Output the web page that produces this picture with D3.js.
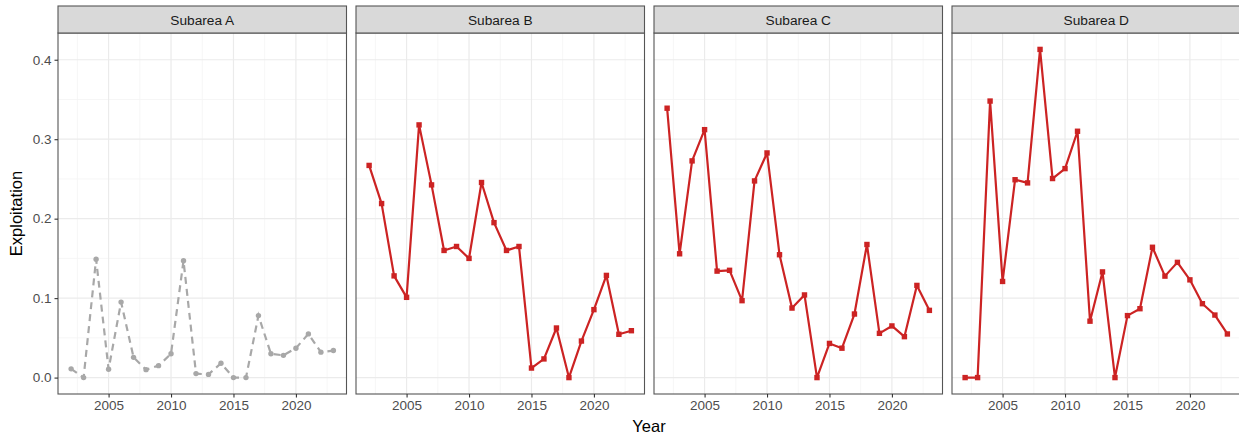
<!DOCTYPE html>
<html>
<head>
<meta charset="utf-8">
<script src="https://cdn.jsdelivr.net/npm/d3@7"></script>
<style>
  html, body { margin: 0; padding: 0; background: #fff; }
  svg { display: block; font-family: "Liberation Sans", Arial, sans-serif; }
</style>
</head>
<body>
<svg id="chart" width="1239" height="437"></svg>
<script>
// Exploitation rate by subarea, 2002-2023
const years = d3.range(2002, 2024);
const subareas = ["Subarea A", "Subarea B", "Subarea C", "Subarea D"];

const subareaA = [0.011, 0.0, 0.149, 0.0105, 0.095, 0.0255, 0.010, 0.015, 0.030, 0.147, 0.005,
                  0.004, 0.018, 0.0, 0.0, 0.078, 0.030, 0.028, 0.037, 0.055, 0.032, 0.034];
const subareaB = [0.267, 0.219, 0.128, 0.101, 0.318, 0.2425, 0.160, 0.165, 0.150, 0.2455, 0.195,
                  0.160, 0.165, 0.012, 0.0235, 0.0624, 0.0, 0.046, 0.0855, 0.1286, 0.0545, 0.059];
const subareaC = [0.339, 0.1558, 0.2727, 0.312, 0.134, 0.135, 0.0968, 0.2475, 0.2827, 0.1546, 0.0875,
                  0.104, 0.0, 0.043, 0.037, 0.080, 0.1675, 0.0557, 0.065, 0.0515, 0.116, 0.0846];
const subareaD = [0.0, 0.0, 0.348, 0.121, 0.249, 0.245, 0.413, 0.2505, 0.263, 0.310, 0.071,
                  0.133, 0.0, 0.078, 0.0867, 0.164, 0.1277, 0.145, 0.123, 0.093, 0.0787, 0.0549];

const yTicks = [0.0, 0.1, 0.2, 0.3, 0.4];
const xTicks = [2005, 2010, 2015, 2020];

const seriesList = [subareaA, subareaB, subareaC, subareaD];

const svg = d3.select("#chart");

const panelLeft = 58, panelGap = 9.5, panelW = 288.5;
const stripTop = 6, stripH = 27;
const panelTop = stripTop + stripH, panelBottom = 394;

// shared scales (ggplot-style 5% expansion)
const allVals = seriesList.flat();
const yMin = 0, yMax = d3.max(allVals);
const yPad = (yMax - yMin) * 0.05;
const y = d3.scaleLinear().domain([yMin - yPad, yMax + yPad]).range([panelBottom, panelTop]);
const xPad = (2023 - 2002) * 0.05;

const gridMajor = "#EBEBEB", gridMinor = "#F4F4F4";
const red = "#CC2323", grey = "#A8A8A8";
const tickFont = 13.5;

subareas.forEach((name, i) => {
  const x0 = panelLeft + i * (panelW + panelGap);
  const x = d3.scaleLinear().domain([2002 - xPad, 2023 + xPad]).range([x0, x0 + panelW]);
  const g = svg.append("g");

  // minor grid
  const xMinor = d3.range(2002.5, 2024, 5);
  const yMinor = [0.05, 0.15, 0.25, 0.35];
  g.selectAll(".xmin").data(xMinor).join("line")
    .attr("x1", d => x(d)).attr("x2", d => x(d))
    .attr("y1", panelTop).attr("y2", panelBottom)
    .attr("stroke", gridMinor).attr("stroke-width", 0.8);
  g.selectAll(".ymin").data(yMinor).join("line")
    .attr("x1", x0).attr("x2", x0 + panelW)
    .attr("y1", d => y(d)).attr("y2", d => y(d))
    .attr("stroke", gridMinor).attr("stroke-width", 0.8);
  // major grid
  g.selectAll(".xmaj").data(xTicks).join("line")
    .attr("x1", d => x(d)).attr("x2", d => x(d))
    .attr("y1", panelTop).attr("y2", panelBottom)
    .attr("stroke", gridMajor).attr("stroke-width", 1.2);
  g.selectAll(".ymaj").data(yTicks).join("line")
    .attr("x1", x0).attr("x2", x0 + panelW)
    .attr("y1", d => y(d)).attr("y2", d => y(d))
    .attr("stroke", gridMajor).attr("stroke-width", 1.2);

  // series
  const data = years.map((yr, k) => ({ year: yr, value: seriesList[i][k] }));
  const line = d3.line().x(d => x(d.year)).y(d => y(d.value));
  if (i === 0) {
    g.append("path").datum(data).attr("d", line)
      .attr("fill", "none").attr("stroke", grey).attr("stroke-width", 2.2)
      .attr("stroke-dasharray", "7,5");
    g.selectAll("circle").data(data).join("circle")
      .attr("cx", d => x(d.year)).attr("cy", d => y(d.value)).attr("r", 2.7)
      .attr("fill", grey);
  } else {
    g.append("path").datum(data).attr("d", line)
      .attr("fill", "none").attr("stroke", red).attr("stroke-width", 2.2)
      .attr("stroke-linejoin", "round");
    const s = 5.4;
    g.selectAll("rect.pt").data(data).join("rect")
      .attr("class", "pt")
      .attr("x", d => x(d.year) - s / 2).attr("y", d => y(d.value) - s / 2)
      .attr("width", s).attr("height", s).attr("fill", red);
  }

  // panel border
  g.append("rect").attr("x", x0).attr("y", panelTop).attr("width", panelW)
    .attr("height", panelBottom - panelTop)
    .attr("fill", "none").attr("stroke", "#555").attr("stroke-width", 1.1);

  // strip
  g.append("rect").attr("x", x0).attr("y", stripTop).attr("width", panelW).attr("height", stripH)
    .attr("fill", "#D9D9D9").attr("stroke", "#555").attr("stroke-width", 1.1);
  g.append("text").attr("x", x0 + panelW / 2).attr("y", stripTop + stripH / 2 + 5)
    .attr("text-anchor", "middle").attr("font-size", 13.7).attr("fill", "#1A1A1A")
    .text(name);

  // x axis
  const xAxis = d3.axisBottom(x).tickValues(xTicks).tickFormat(d3.format("d"))
    .tickSize(3.5).tickPadding(3);
  const ax = g.append("g").attr("transform", `translate(0,${panelBottom})`).call(xAxis);
  ax.select(".domain").remove();
  ax.selectAll(".tick line").attr("stroke", "#333").attr("stroke-width", 1.1);
  ax.selectAll(".tick text").attr("font-size", tickFont).attr("fill", "#4D4D4D")
    .attr("font-family", "Liberation Sans, Arial, sans-serif");

  if (i === 0) {
    const yAxis = d3.axisLeft(y).tickValues(yTicks).tickFormat(d3.format(".1f"))
      .tickSize(3.5).tickPadding(3);
    const ay = g.append("g").attr("transform", `translate(${x0},0)`).call(yAxis);
    ay.select(".domain").remove();
    ay.selectAll(".tick line").attr("stroke", "#333").attr("stroke-width", 1.1);
    ay.selectAll(".tick text").attr("font-size", tickFont).attr("fill", "#4D4D4D")
      .attr("font-family", "Liberation Sans, Arial, sans-serif");
  }
});

// axis titles
svg.append("text").attr("x", 649).attr("y", 432).attr("text-anchor", "middle")
  .attr("font-size", 16.5).attr("fill", "#000").text("Year");
svg.append("text").attr("transform", `translate(22,${(panelTop + panelBottom) / 2}) rotate(-90)`)
  .attr("text-anchor", "middle").attr("font-size", 16.5).attr("fill", "#000").text("Exploitation");
</script>
</body>
</html>
